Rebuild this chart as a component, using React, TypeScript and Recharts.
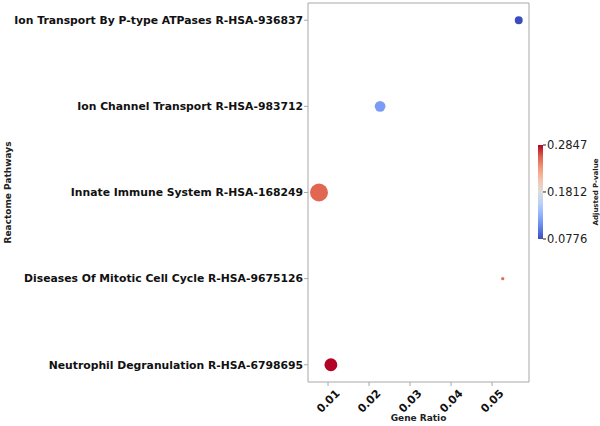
import React from 'react';
import { ScatterChart, Scatter, XAxis, YAxis, ZAxis, Cell, ReferenceLine } from 'recharts';

// Reactome enrichment results, top to bottom
const pathways = [
  'Ion Transport By P-type ATPases R-HSA-936837',
  'Ion Channel Transport R-HSA-983712',
  'Innate Immune System R-HSA-168249',
  'Diseases Of Mitotic Cell Cycle R-HSA-9675126',
  'Neutrophil Degranulation R-HSA-6798695',
];
const geneRatio = [0.0565, 0.0227, 0.0078, 0.0526, 0.0107];
const geneCount = [2, 3, 7, 1, 4];
const adjPValue = [0.0776, 0.118, 0.2555, 0.2525, 0.2847];
const xTicks = [0.01, 0.02, 0.03, 0.04, 0.05];
const cbarTicks = [0.0776, 0.1812, 0.2847];

const X_DOMAIN = [0.00512, 0.059];
const Y_DOMAIN = [-0.2, 4.2];

const FONT = '"DejaVu Sans", sans-serif';
const FRAME = '#a8a8a8';

// matplotlib "coolwarm" sampled at 9 stops
const coolwarm = [
  [59, 76, 192], [98, 130, 234], [141, 176, 254], [184, 208, 249],
  [221, 221, 221], [245, 196, 173], [244, 154, 123], [222, 96, 77], [180, 4, 38],
];
const cmap = (t: number) => {
  const s = Math.max(0, Math.min(1, t)) * (coolwarm.length - 1);
  const i = Math.min(Math.floor(s), coolwarm.length - 2);
  const f = s - i;
  const c = coolwarm[i].map((v, k) => Math.round(v + (coolwarm[i + 1][k] - v) * f));
  return `rgb(${c[0]},${c[1]},${c[2]})`;
};

const pMin = Math.min(...adjPValue);
const pMax = Math.max(...adjPValue);

const data = pathways.map((name, i) => ({
  name,
  idx: i,
  ratio: geneRatio[i],
  count: geneCount[i],
  p: adjPValue[i],
}));

const YTick = (props: any) => {
  const { x, y, payload } = props;
  return (
    <text x={x + 1} y={y} dy="0.35em" textAnchor="end" fontFamily={FONT} fontWeight="bold" fontSize={10.8} fill="#111">
      {pathways[payload.value]}
    </text>
  );
};

const XTick = (props: any) => {
  const { x, y, payload } = props;
  const cy = y + 13;
  return (
    <text x={x} y={cy} dy="0.35em" textAnchor="middle" transform={`rotate(-45, ${x}, ${cy})`} fontFamily={FONT} fontWeight="bold" fontSize={11} fill="#111">
      {payload.value.toFixed(2)}
    </text>
  );
};

const CBAR = { x: 538, y: 145, w: 5, h: 94 };

const ColorBar = () => {
  const stops = coolwarm.map((_, i) => i / (coolwarm.length - 1));
  const yOf = (v: number) => CBAR.y + CBAR.h - ((v - pMin) / (pMax - pMin)) * CBAR.h;
  return (
    <svg width={600} height={426} style={{ position: 'absolute', left: 0, top: 0, pointerEvents: 'none' }}>
      <defs>
        <linearGradient id="cw" x1="0" y1="1" x2="0" y2="0">
          {stops.map((t) => (
            <stop key={t} offset={t} stopColor={cmap(t)} />
          ))}
        </linearGradient>
      </defs>
      <rect x={CBAR.x} y={CBAR.y} width={CBAR.w} height={CBAR.h} fill="url(#cw)" />
      {cbarTicks.map((v) => (
        <g key={v}>
          <line x1={CBAR.x + CBAR.w} x2={CBAR.x + CBAR.w + 3} y1={yOf(v)} y2={yOf(v)} stroke="#222" strokeWidth={1} />
          <text x={CBAR.x + CBAR.w + 4} y={yOf(v)} dy="0.35em" fontFamily={FONT} fontSize={11.5} fill="#222">
            {v.toFixed(4)}
          </text>
        </g>
      ))}
      <text x={596} y={CBAR.y + CBAR.h / 2} dy="0.35em" textAnchor="middle" transform={`rotate(-90, 596, ${CBAR.y + CBAR.h / 2})`} fontFamily={FONT} fontWeight="bold" fontSize={7} fill="#222">
        Adjusted P-value
      </text>
    </svg>
  );
};

export default function App() {
  return (
    <div style={{ position: 'absolute', left: 0, top: 0, width: 600, height: 426, background: '#fff' }}>
      <ScatterChart width={600} height={426} margin={{ top: 3, right: 71, bottom: 0, left: 0 }}>
        <XAxis
          type="number"
          dataKey="ratio"
          domain={X_DOMAIN}
          ticks={xTicks}
          allowDataOverflow
          height={44}
          stroke={FRAME}
          tickSize={4}
          tick={<XTick />}
          label={{
            content: (p: any) => (
              <text x={p.viewBox.x + p.viewBox.width / 2} y={421} textAnchor="middle" fontFamily={FONT} fontWeight="bold" fontSize={9} fill="#222">
                Gene Ratio
              </text>
            ),
          }}
        />
        <YAxis
          type="number"
          dataKey="idx"
          domain={Y_DOMAIN}
          ticks={[0, 1, 2, 3, 4]}
          allowDataOverflow
          reversed
          width={308}
          stroke={FRAME}
          tickSize={4}
          tick={<YTick />}
          label={{
            content: (p: any) => {
              const cy = p.viewBox.y + p.viewBox.height / 2;
              return (
                <text x={8} y={cy} dy="0.35em" textAnchor="middle" transform={`rotate(-90, 8, ${cy})`} fontFamily={FONT} fontWeight="bold" fontSize={9} fill="#222">
                  Reactome Pathways
                </text>
              );
            },
          }}
        />
        <ZAxis type="number" dataKey="count" domain={[1, 7]} range={[8.6, 254]} />
        {/* top and right spines of the axes box */}
        <ReferenceLine y={Y_DOMAIN[0]} stroke={FRAME} ifOverflow="visible" />
        <ReferenceLine x={X_DOMAIN[1]} stroke={FRAME} ifOverflow="visible" />
        <Scatter data={data} isAnimationActive={false}>
          {data.map((d) => (
            <Cell key={d.name} fill={cmap((d.p - pMin) / (pMax - pMin))} />
          ))}
        </Scatter>
      </ScatterChart>
      <ColorBar />
    </div>
  );
}
